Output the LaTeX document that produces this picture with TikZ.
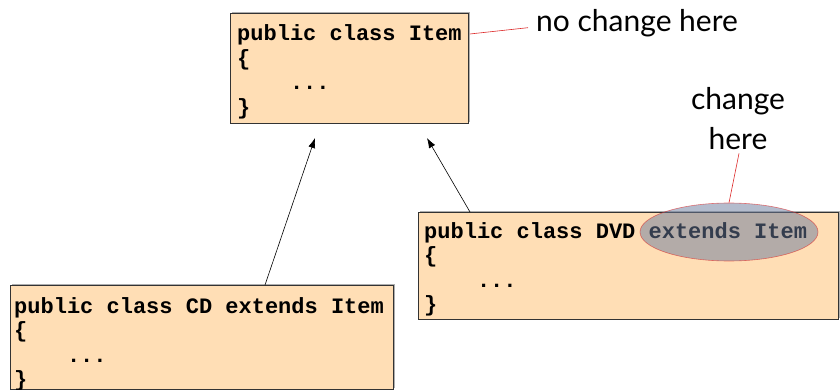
\documentclass[tikz,border=0pt]{standalone}
\usepackage{fontspec}
\usetikzlibrary{arrows.meta,shapes.geometric,shadows,calc}
\newfontfamily\codefont{Liberation Mono}
\newfontfamily\notefont{Lato}
\definecolor{boxfill}{RGB}{255,222,181}
\definecolor{hilite}{RGB}{105,122,156}
\definecolor{notered}{RGB}{220,40,40}
\tikzset{
  classbox/.style={draw=black!80, line width=0.8pt, fill=boxfill, anchor=north west,
    inner sep=0pt,
    drop shadow={shadow xshift=1.5pt, shadow yshift=1.5pt, fill=black!45, opacity=0.7}},
  % base anchor of a multi-line node sits on its last line
  code/.style={anchor=base west, inner sep=0pt, align=left,
    font=\codefont\bfseries\fontsize{22}{24.5}\selectfont},
  note/.style={inner sep=0pt, align=center, font=\notefont\fontsize{30}{40}\selectfont},
  inherit/.style={draw=black, line width=0.6pt, -{Latex[length=10pt,width=7pt]}},
  pointer/.style={draw=notered, line width=0.6pt},
}
\begin{document}
\begin{tikzpicture}[x=1pt,y=-1pt]
\useasboundingbox (0,0) rectangle (840,390);

% superclass
\node[classbox, minimum width=238pt, minimum height=110pt] (item) at (230,13) {};
\node[code] (itemtxt) at (237,114.5) {public class Item\\\{\\\ \ \ \ ...\\\}};

% subclass DVD
\node[classbox, minimum width=420pt, minimum height=107pt] (dvd) at (418,212) {};
\node[code] (dvdtxt) at (424,311.5) {public class DVD extends Item\\\{\\\ \ \ \ ...\\\}};

% subclass CD
\node[classbox, minimum width=383pt, minimum height=104pt] (cd) at (10,285) {};
\node[code] (cdtxt) at (14,386.5) {public class CD extends Item\\\{\\\ \ \ \ ...\\\}};

% highlight over the changed part
\node[ellipse, minimum width=178pt, minimum height=58pt, fill=hilite, fill opacity=0.5,
  draw=notered, draw opacity=0.6, line width=0.6pt] (mark) at (729,232) {};

% inheritance arrows
\coordinate (cdtop) at ($(cd.north west)+(255,0)$);
\coordinate (cdhead) at (315,138);
\coordinate (dvdtop) at ($(dvd.north west)+(52,0)$);
\coordinate (dvdhead) at (427,138);
\draw[inherit] (cdtop) -- (cdhead);
\draw[inherit] (dvdtop) -- (dvdhead);

% annotations
\node[note, anchor=base west] (nochange) at (536,32) {no change here};
\node[note, anchor=base] (change) at (738,150) {change\\here};
\coordinate (itemside) at ($(item.north east)+(1,21)$);
\coordinate (noteend) at ($(nochange.west)+(-8,4)$);
\draw[pointer] (itemside) -- (noteend);
\coordinate (changeend) at ($(change.south)+(1,3)$);
\draw[pointer] (changeend) -- (mark.north);
\end{tikzpicture}
\end{document}
